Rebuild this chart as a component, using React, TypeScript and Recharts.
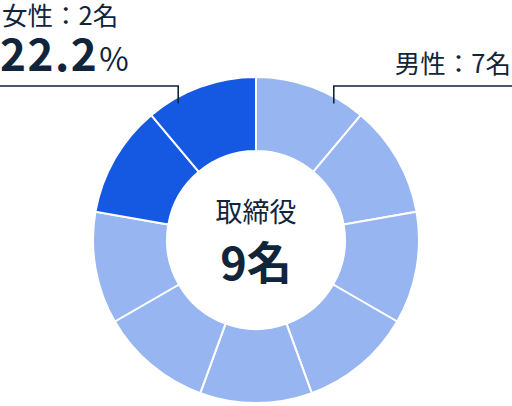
import { PieChart, Pie, Cell } from "recharts";

const seats = ["男性", "男性", "男性", "男性", "男性", "男性", "男性", "女性", "女性"];
const colors: Record<string, string> = { 男性: "#97B5F1", 女性: "#1559E3" };
const data = seats.map((g, i) => ({ name: `${g}${i}`, gender: g, value: 1 }));

const maleCount = seats.filter((g) => g === "男性").length;
const femaleCount = seats.length - maleCount;
const femaleShare = ((femaleCount / seats.length) * 100).toFixed(1);

const ink = "#10243A";
const font = "'Noto Sans CJK JP', 'Noto Sans', sans-serif";
const W = 512;
const H = 406;

function Callouts(props: any) {
  const { cx, cy, outerRadius, index } = props;
  const r = outerRadius - 6;
  const a = (29.7 * Math.PI) / 180;
  const dx = r * Math.sin(a);
  const py = cy - r * Math.cos(a);
  const lineY = 86;
  if (index === 0) {
    const px = cx + dx;
    return (
      <g>
        <polyline points={`${W},${lineY} ${px},${lineY} ${px},${py}`} fill="none" stroke={ink} strokeWidth={1.6} />
        <text x={W - 1} y={73} textAnchor="end" fill={ink} fontFamily={font} fontSize={25.5}>
          男性：{maleCount}名
        </text>
        <text x={cx} y={222} textAnchor="middle" fill={ink} fontFamily={font} fontSize={27}>
          取締役
        </text>
        <text x={cx} y={280} textAnchor="middle" fill={ink} fontFamily={font} fontSize={45} fontWeight={700}>
          {seats.length}名
        </text>
      </g>
    );
  }
  if (index === seats.length - 1) {
    const px = cx - dx;
    return (
      <g>
        <polyline points={`0,${lineY} ${px},${lineY} ${px},${py}`} fill="none" stroke={ink} strokeWidth={1.6} />
        <text x={2} y={25} fill={ink} fontFamily={font} fontSize={25.5}>
          女性：{femaleCount}名
        </text>
        <text x={0} y={71} fill={ink} fontFamily={font}>
          <tspan fontSize={44} fontWeight={700} letterSpacing={1.5}>{femaleShare}</tspan>
          <tspan fontSize={32} dx={1}>%</tspan>
        </text>
      </g>
    );
  }
  return null;
}

export default function App() {
  return (
    <div style={{ position: "absolute", left: 0, top: 0, width: W, height: H, background: "#fff" }}>
      <PieChart width={W} height={H} margin={{ top: 0, right: 0, bottom: 0, left: 0 }}>
        <Pie
          data={data}
          dataKey="value"
          cx={256}
          cy={240}
          innerRadius={89}
          outerRadius={163}
          startAngle={90}
          endAngle={-270}
          stroke="#fff"
          strokeWidth={2}
          label={Callouts}
          labelLine={false}
          isAnimationActive={false}
        >
          {data.map((d) => (
            <Cell key={d.name} fill={colors[d.gender]} />
          ))}
        </Pie>
      </PieChart>
    </div>
  );
}
